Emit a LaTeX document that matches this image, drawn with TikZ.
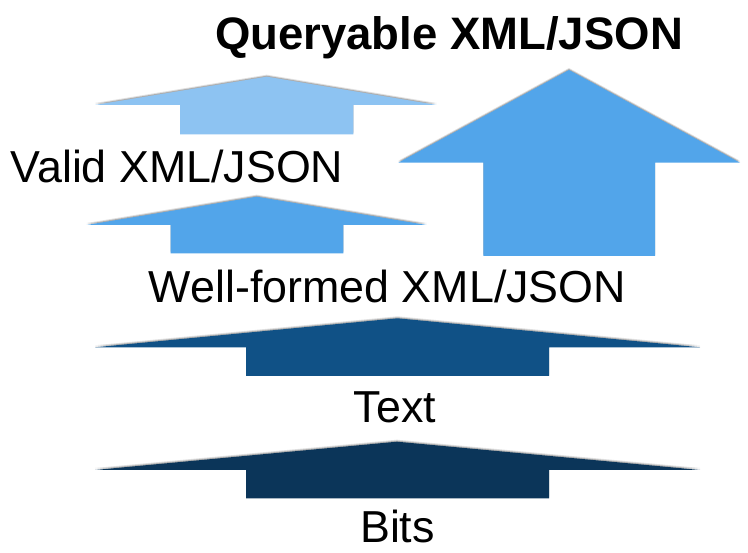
\documentclass[tikz,border=0pt]{standalone}
\usepackage{fontspec}
\setmainfont{Liberation Sans}
\definecolor{lightblue}{RGB}{141,195,242}
\definecolor{midblue}{RGB}{82,165,234}
\definecolor{darkblue}{RGB}{16,81,134}
\definecolor{navyblue}{RGB}{11,53,89}
% #1 colour, #2 #3 tip, #4 #5 wing x, #6 wing y, #7 #8 shaft x, #9 bottom
\newcommand{\uparr}[9]{%
  \begin{scope}[yshift=2pt]
    \fill[black,opacity=0.12] (#7,#9) -- (#7,#6) -- (#4,#6) -- (#2,#3) -- (#5,#6) -- (#8,#6) -- (#8,#9) -- cycle;
  \end{scope}
  \begin{scope}[yshift=1pt]
    \fill[black,opacity=0.22] (#7,#9) -- (#7,#6) -- (#4,#6) -- (#2,#3) -- (#5,#6) -- (#8,#6) -- (#8,#9) -- cycle;
  \end{scope}
  \fill[#1] (#7,#9) -- (#7,#6) -- (#4,#6) -- (#2,#3) -- (#5,#6) -- (#8,#6) -- (#8,#9) -- cycle;
}
\tikzset{
  lbl/.style={inner sep=0pt, anchor=base, font=\fontsize{44.8}{52}\selectfont},
  blbl/.style={lbl, font=\fontsize{45.5}{52}\selectfont\bfseries}
}
\begin{document}
\begin{tikzpicture}[x=1pt,y=-1pt]
\useasboundingbox (0,0) rectangle (748,553);
\fill[white] (0,0) rectangle (748,553);
\uparr{lightblue}{266.7}{76.7}{95}{436.7}{105}{180}{353.3}{134.3}
\uparr{midblue}{256.7}{196.7}{86.7}{426.7}{225}{170.7}{343.3}{253.3}
\uparr{midblue}{569}{70}{398.3}{740}{162.7}{483.3}{655}{256}
\uparr{darkblue}{397.5}{318.3}{95}{700}{347.3}{246}{549}{376}
\uparr{navyblue}{397}{441.7}{95}{700}{470}{246}{549}{498.3}
\node[blbl] (query) at (449,50) {Queryable XML/JSON};
\node[lbl] (valid) at (177,183) {Valid XML/JSON};
\node[lbl] (wellformed) at (387.5,303) {Well-formed XML/JSON};
\node[lbl] (text) at (395,423) {Text};
\node[lbl] (bits) at (397.5,543) {Bits};
\end{tikzpicture}
\end{document}
